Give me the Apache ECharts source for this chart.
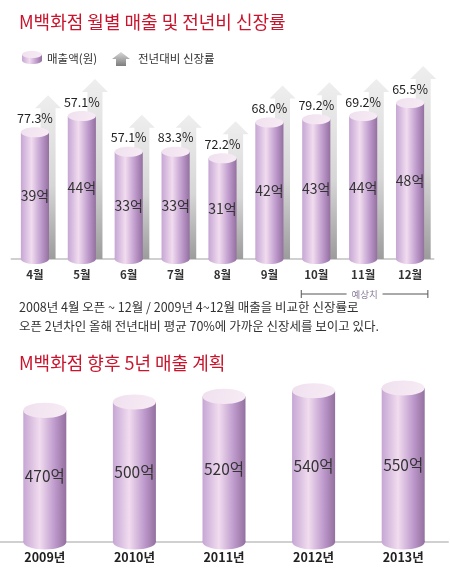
<!DOCTYPE html>
<html>
<head>
<meta charset="utf-8">
<script src="https://cdn.jsdelivr.net/npm/echarts@6/dist/echarts.min.js"></script>
<style>
html,body{margin:0;padding:0;background:#fff;}
#chart{width:450px;height:576px;}
</style>
</head>
<body>
<div id="chart"></div>
<script>
const months = ['4월','5월','6월','7월','8월','9월','10월','11월','12월'];
const sales = [39, 44, 33, 33, 31, 42, 43, 44, 48];
const growth = [77.3, 57.1, 57.1, 83.3, 72.2, 68.0, 79.2, 69.2, 65.5];
const years = ['2009년','2010년','2011년','2012년','2013년'];
const plan = [470, 500, 520, 540, 550];
const title1 = 'M백화점 월별 매출 및 전년비 신장률';
const title2 = 'M백화점 향후 5년 매출 계획';
const legendBar = '매출액(원)';
const legendArrow = '전년대비 신장률';
const note1 = '2008년 4월 오픈 ~ 12월 / 2009년 4~12월 매출을 비교한 신장률로';
const note2 = '오픈 2년차인 올해 전년대비 평균 70%에 가까운 신장세를 보이고 있다.';
const forecastLabel = '예상치';

const FONT = '"Noto Sans CJK KR", "Noto Sans", sans-serif';
const RED = '#c8142c';

function bodyGrad() {
  return new echarts.graphic.LinearGradient(0, 0, 1, 0, [
    {offset: 0, color: '#c6a6d4'},
    {offset: 0.38, color: '#f1dcef'},
    {offset: 0.72, color: '#bf9ccd'},
    {offset: 1, color: '#93709f'}
  ]);
}
function topGrad() {
  return new echarts.graphic.LinearGradient(0, 0, 1, 1, [
    {offset: 0, color: '#f0e0ee'},
    {offset: 1, color: '#f7ecf5'}
  ]);
}

function makeCylinder(widthRatio, ellRatio, fontSize, showGrowth) {
  return function (params, api) {
    const idx = params.dataIndex;
    const v = api.value(1);
    const top = api.coord([api.value(0), v]);
    const base = api.coord([api.value(0), 0]);
    const bw = api.size([1, 0])[0] * widthRatio;
    const eh = bw * ellRatio;
    const cx = top[0];
    const children = [
      {type: 'ellipse', shape: {cx: cx, cy: base[1], rx: bw / 2, ry: eh / 2}, style: {fill: bodyGrad()}},
      {type: 'rect', shape: {x: cx - bw / 2, y: top[1], width: bw, height: base[1] - top[1]}, style: {fill: bodyGrad()}},
      {type: 'ellipse', shape: {cx: cx, cy: top[1], rx: bw / 2, ry: eh / 2}, style: {fill: topGrad()}},
      {type: 'text', style: {text: v + '억', x: cx, y: (top[1] + base[1]) / 2, align: 'center', verticalAlign: 'middle',
        fill: '#333', font: 'normal ' + fontSize + 'px ' + FONT}}
    ];
    if (showGrowth) {
      children.push({type: 'text', style: {text: growth[idx].toFixed(1) + '%', x: cx, y: top[1] - eh / 2 - 9,
        align: 'center', verticalAlign: 'middle', fill: '#222', font: 'normal 12.5px ' + FONT}});
    }
    return {type: 'group', children: children};
  };
}

function arrowItem(params, api) {
  const v = api.value(1);
  const top = api.coord([api.value(0), v]);
  const base = api.coord([api.value(0), 0]);
  const band = api.size([1, 0])[0];
  const cx = top[0] + band * 0.28;
  const tip = top[1] - 37;
  const headH = 13, headW = 13, shaftW = 7.5;
  const pts = [
    [cx, tip], [cx + headW, tip + headH], [cx + shaftW, tip + headH],
    [cx + shaftW, base[1]], [cx - shaftW, base[1]], [cx - shaftW, tip + headH],
    [cx - headW, tip + headH]
  ];
  return {type: 'polygon', shape: {points: pts}, style: {
    fill: new echarts.graphic.LinearGradient(0, 0, 0, 1, [
      {offset: 0, color: '#eeeeee'},
      {offset: 0.55, color: '#d6d6d6'},
      {offset: 1, color: '#9c9c9c'}
    ])
  }};
}

const chart = echarts.init(document.getElementById('chart'), null, {renderer: 'canvas'});

const option = {
  backgroundColor: '#fff',
  animation: false,
  grid: [
    {left: 11.5, right: 16.5, top: 96.5, bottom: 317, containLabel: false},
    {left: -2, right: 2, top: 374, bottom: 34, containLabel: false}
  ],
  xAxis: [
    {gridIndex: 0, type: 'category', data: months,
      axisLine: {show: true, lineStyle: {color: '#d0d0d0', width: 2}},
      axisTick: {show: false},
      axisLabel: {color: '#333', fontWeight: 'bold', fontSize: 11.5, fontFamily: FONT, margin: 10}},
    {gridIndex: 1, type: 'category', data: years,
      axisLine: {show: true, lineStyle: {color: '#d0d0d0', width: 2}},
      axisTick: {show: false},
      axisLabel: {color: '#222', fontWeight: 'bold', fontSize: 12.5, fontFamily: FONT, margin: 9}}
  ],
  yAxis: [
    {gridIndex: 0, type: 'value', min: 0, max: 50, show: false},
    {gridIndex: 1, type: 'value', min: 0, max: 600, show: false}
  ],
  series: [
    {type: 'custom', name: legendArrow, xAxisIndex: 0, yAxisIndex: 0, z: 1,
      data: sales.map((v, i) => [i, v]), renderItem: arrowItem},
    {type: 'custom', name: legendBar, xAxisIndex: 0, yAxisIndex: 0, z: 2,
      data: sales.map((v, i) => [i, v]), renderItem: makeCylinder(0.6, 0.36, 14, true)},
    {type: 'custom', xAxisIndex: 1, yAxisIndex: 1, z: 2,
      data: plan.map((v, i) => [i, v]), renderItem: makeCylinder(0.48, 0.35, 15.5, false)}
  ],
  graphic: [
    {type: 'text', left: 19, top: 13, style: {text: title1, fill: RED, font: 'normal 18px ' + FONT}},
    {type: 'text', left: 19, top: 354, style: {text: title2, fill: RED, font: 'normal 18px ' + FONT}},
    {type: 'text', left: 19, top: 301, style: {text: note1, fill: '#333', font: 'normal 12.5px ' + FONT}},
    {type: 'text', left: 19, top: 320, style: {text: note2, fill: '#333', font: 'normal 12.5px ' + FONT}},
    // legend: cylinder icon
    {type: 'group', left: 22, top: 51, children: [
      {type: 'ellipse', shape: {cx: 10, cy: 10, rx: 10, ry: 3.5}, style: {fill: bodyGrad()}},
      {type: 'rect', shape: {x: 0, y: 4, width: 20, height: 6}, style: {fill: bodyGrad()}},
      {type: 'ellipse', shape: {cx: 10, cy: 4, rx: 10, ry: 3.5}, style: {fill: topGrad()}}
    ]},
    {type: 'text', left: 47, top: 53, style: {text: legendBar, fill: '#333', font: 'normal 11.5px ' + FONT}},
    {type: 'polygon', shape: {points: [[121, 52], [130, 59], [126, 59], [126, 66], [116, 66], [116, 59], [112, 59]]},
      style: {fill: new echarts.graphic.LinearGradient(0, 0, 0, 1, [{offset: 0, color: '#d8d8d8'}, {offset: 1, color: '#7d7d7d'}])}},
    {type: 'text', left: 138, top: 53, style: {text: legendArrow, fill: '#333', font: 'normal 11.5px ' + FONT}}
  ]
};
chart.setOption(option);

// forecast bracket under 10월~12월
const band = chart.convertToPixel({xAxisIndex: 0}, months[1]) - chart.convertToPixel({xAxisIndex: 0}, months[0]);
const xa = chart.convertToPixel({xAxisIndex: 0}, '10월') - band * 0.32;
const xb = chart.convertToPixel({xAxisIndex: 0}, '12월') + band * 0.38;
const yb = 294;
const mid = (xa + xb) / 2;
chart.setOption({graphic: option.graphic.concat([
  {type: 'line', shape: {x1: xa, y1: yb, x2: mid - 18, y2: yb}, style: {stroke: '#555', lineWidth: 1}},
  {type: 'line', shape: {x1: mid + 18, y1: yb, x2: xb, y2: yb}, style: {stroke: '#555', lineWidth: 1}},
  {type: 'line', shape: {x1: xa, y1: yb - 4, x2: xa, y2: yb + 4}, style: {stroke: '#555', lineWidth: 1}},
  {type: 'line', shape: {x1: xb, y1: yb - 4, x2: xb, y2: yb + 4}, style: {stroke: '#555', lineWidth: 1}},
  {type: 'text', x: mid, y: yb, style: {text: forecastLabel, align: 'center', verticalAlign: 'middle', fill: '#8a7c9a', font: 'normal 9.5px ' + FONT}}
])});
</script>
</body>
</html>
